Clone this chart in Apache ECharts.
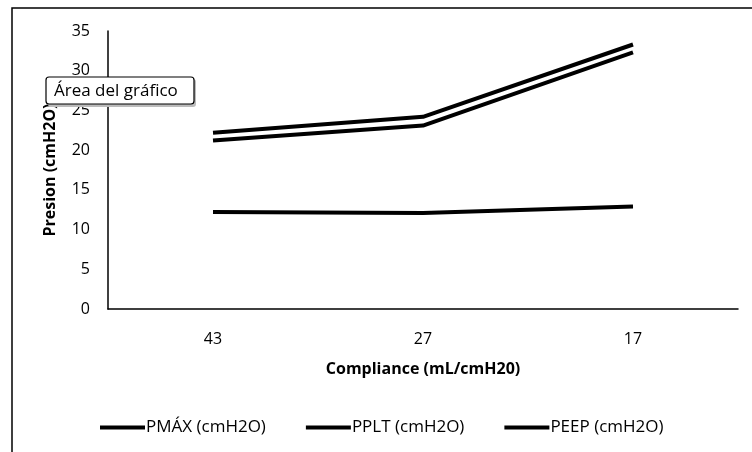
<!DOCTYPE html>
<html>
<head>
<meta charset="utf-8">
<script src="https://cdn.jsdelivr.net/npm/echarts@6/dist/echarts.min.js"></script>
<style>html,body{margin:0;padding:0;background:#fff;}#c{width:752px;height:452px;}</style>
</head>
<body>
<div id="c"></div>
<script>
const categories = ['43', '27', '17'];
const pmax = [22.2, 24.2, 33.3];
const pplt = [21.2, 23.1, 32.3];
const peep = [12.2, 12.1, 12.9];
const seriesNames = ['PMÁX (cmH2O)', 'PPLT (cmH2O)', 'PEEP (cmH2O)'];
const yTicks = [0, 5, 10, 15, 20, 25, 30, 35];

const font = '"Open Sans", Lato, sans-serif';
const chart = echarts.init(document.getElementById('c'), null, {renderer: 'canvas'});
const lineSeries = (name, data) => ({
  name, type: 'line', data, symbol: 'none', silent: true,
  lineStyle: {color: '#000', width: 4}, itemStyle: {color: '#000'}
});
chart.setOption({
  animation: false,
  backgroundColor: '#fff',
  grid: {left: 108, right: 14, top: 31, bottom: 143, containLabel: false},
  xAxis: {
    type: 'category', data: categories, boundaryGap: true,
    axisLine: {show: true, lineStyle: {color: '#000', width: 1.5}},
    axisTick: {show: false},
    axisLabel: {color: '#000', fontSize: 16, fontFamily: font, margin: 22},
    name: 'Compliance (mL/cmH20)', nameLocation: 'middle', nameGap: 52,
    nameTextStyle: {color: '#000', fontSize: 16, fontWeight: 'bold', fontFamily: font}
  },
  yAxis: {
    type: 'value', min: yTicks[0], max: yTicks[yTicks.length - 1], interval: 5,
    axisLine: {show: true, lineStyle: {color: '#000', width: 1.5}},
    axisTick: {show: false},
    splitLine: {show: false},
    axisLabel: {color: '#000', fontSize: 16, fontFamily: font, margin: 18},
    name: 'Presion (cmH2O)', nameLocation: 'middle', nameGap: 50, nameRotate: 90,
    nameTextStyle: {color: '#000', fontSize: 16, fontWeight: 'bold', fontFamily: font}
  },
  legend: {
    data: seriesNames, left: 100, top: 419, padding: 0,
    icon: 'rect', itemWidth: 45, itemHeight: 4, itemGap: 40,
    textStyle: {color: '#000', fontSize: 17, fontFamily: font, padding: [0, 0, 0, -4]}
  },
  series: [
    lineSeries(seriesNames[0], pmax),
    lineSeries(seriesNames[1], pplt),
    lineSeries(seriesNames[2], peep)
  ],
  graphic: [
    {type: 'rect', shape: {x: 12, y: 8, width: 760, height: 460}, style: {fill: 'none', stroke: '#000', lineWidth: 1.5}, z: 1},
    {type: 'rect', shape: {x: 48, y: 79, width: 148, height: 28, r: 3}, style: {fill: '#bbb'}, z: 100},
    {type: 'rect', shape: {x: 46, y: 77, width: 148, height: 27, r: 3}, style: {fill: '#fff', stroke: '#000', lineWidth: 1.2}, z: 101},
    {type: 'text', x: 54, y: 91, style: {text: 'Área del gráfico', fill: '#000', fontSize: 17, fontFamily: font, verticalAlign: 'middle'}, z: 102}
  ]
});
</script>
</body>
</html>
